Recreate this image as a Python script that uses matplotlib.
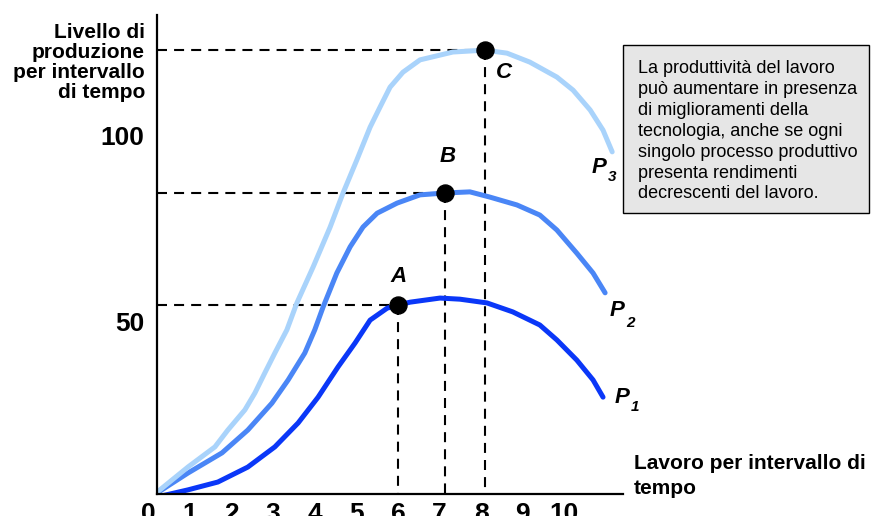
import matplotlib
matplotlib.use("Agg")
import matplotlib.pyplot as plt
from matplotlib.patches import Rectangle

plt.rcParams["font.family"] = ["Liberation Sans", "DejaVu Sans"]

# curve data (x = lavoro, y = produzione)
p1_x = [0.21, 0.95, 1.67, 2.39, 3.04, 3.60, 4.08, 4.56, 4.97, 5.33, 5.74, 6.00, 6.29, 7.01, 7.49,
        8.14, 8.76, 9.41, 9.82, 10.30, 10.69, 10.93]
p1_y = [3.2, 5.1, 7.2, 11.2, 16.6, 23.0, 29.9, 38.0, 44.4, 50.5, 53.7, 54.5, 55.3, 56.4, 56.1,
        55.1, 52.7, 49.2, 45.2, 39.8, 34.5, 29.9]
p2_x = [0.21, 0.95, 1.77, 2.39, 2.97, 3.36, 3.76, 4.00, 4.20, 4.53, 4.85, 5.16, 5.50, 5.98, 6.53,
        7.13, 7.73, 8.21, 8.86, 9.41, 9.82, 10.30, 10.69, 10.98]
p2_y = [4.3, 9.6, 15.0, 21.1, 28.3, 34.5, 41.7, 47.9, 54.0, 63.1, 70.1, 75.4, 79.1, 81.8, 84.0,
        84.5, 84.8, 83.4, 81.3, 78.6, 74.6, 68.4, 63.1, 57.8]
p3_x = [0.21, 0.95, 1.60, 1.91, 2.32, 2.56, 2.80, 3.04, 3.33, 3.57, 3.96, 4.37, 4.68, 5.01, 5.33,
        5.57, 5.81, 6.12, 6.53, 7.32, 8.09, 8.62, 9.17, 9.82, 10.21, 10.62, 10.93, 11.15]
p3_y = [4.5, 11.2, 16.6, 21.1, 26.5, 31.0, 36.4, 41.7, 47.9, 55.1, 64.7, 75.4, 84.5, 93.3, 102.1,
        107.5, 112.8, 116.8, 120.1, 122.2, 122.7, 121.9, 119.5, 115.5, 112.0, 106.7, 101.3, 95.5]
curve_names = ["1", "2", "3"]
curve_colors = ["#0a37f8", "#4a86f6", "#a9d3fb"]

pt_labels = ["A", "B", "C"]
pt_x = [6.0, 7.13, 8.09]
pt_y = [54.5, 84.5, 122.7]

x_ticks = list(range(0, 11))
y_ticks = [50, 100]

note = ("La produttività del lavoro\npuò aumentare in presenza\ndi miglioramenti della\n"
        "tecnologia, anche se ogni\nsingolo processo produttivo\npresenta rendimenti\n"
        "decrescenti del lavoro.")

W, Hpx = 872, 516
fig = plt.figure(figsize=(W / 100, Hpx / 100), dpi=100)
ax = fig.add_axes([157 / W, 1 - 494 / Hpx, (623 - 157) / W, (494 - 15) / Hpx])
ax.set_xlim(0.207, 11.41)
ax.set_ylim(4.0, 132.1)
for s in ("top", "right"):
    ax.spines[s].set_visible(False)
for s in ("left", "bottom"):
    ax.spines[s].set_linewidth(1.6)

ax.set_xticks([])
ax.set_yticks(y_ticks)
ax.set_yticklabels([str(v) for v in y_ticks], fontsize=19, fontweight="bold")
ax.tick_params(axis="y", length=0, pad=9)
# x numbers sit low and are partly cut by the bottom edge, as in the source
for v in x_ticks:
    ax.text(v, -3.2, str(v), ha="center", va="baseline", fontsize=19, fontweight="bold", clip_on=False)

# dashed guides
dash = dict(color="black", lw=1.5, dashes=(4.8, 3.4), zorder=1)
for x, y in zip(pt_x, pt_y):
    ax.plot([0.207, x], [y, y], **dash)
    ax.plot([x, x], [y, 4.0], **dash)

# curves
offs = {"1": ((19, 0), (32, -10)), "2": ((12, -18), (25, -30)), "3": ((-13, -16), (0, -25))}
for name, xs, ys, c in zip(curve_names, [p1_x, p2_x, p3_x], [p1_y, p2_y, p3_y], curve_colors):
    ax.plot(xs, ys, color=c, lw=3.6, solid_capstyle="round", solid_joinstyle="round", zorder=2)
    po, so = offs[name]
    ax.annotate("P", (xs[-1], ys[-1]), xytext=po, textcoords="offset pixels", ha="center", va="center",
                fontsize=16, fontweight="bold", fontstyle="italic")
    ax.annotate(name, (xs[-1], ys[-1]), xytext=so, textcoords="offset pixels", ha="center", va="center",
                fontsize=11, fontweight="bold", fontstyle="italic")

ax.scatter(pt_x, pt_y, s=150, color="black", zorder=4)
lab_off = [(1, 29), (3, 36), (19, -22)]
for lab, x, y, o in zip(pt_labels, pt_x, pt_y, lab_off):
    ax.annotate(lab, (x, y), xytext=o, textcoords="offset pixels", ha="center", va="center",
                fontsize=16, fontweight="bold", fontstyle="italic")

# axis titles
fig.text(145 / W, 1 - 23 / Hpx, "Livello di\nproduzione\nper intervallo\ndi tempo", ha="right", va="top",
         multialignment="right", fontsize=15, fontweight="bold", linespacing=1.07)
fig.text(634 / W, 1 - 454 / Hpx, "Lavoro per intervallo di\ntempo", ha="left", va="top",
         fontsize=15, fontweight="bold", linespacing=1.4)

# note box
fig.patches.append(Rectangle((623 / W, 1 - 213 / Hpx), (869 - 623) / W, (213 - 45) / Hpx,
                             transform=fig.transFigure, facecolor="#e6e6e6", edgecolor="black", lw=1))
fig.text(638 / W, 1 - 60 / Hpx, note, ha="left", va="top", fontsize=13, linespacing=1.3)

fig.savefig("out.png", dpi=100)
